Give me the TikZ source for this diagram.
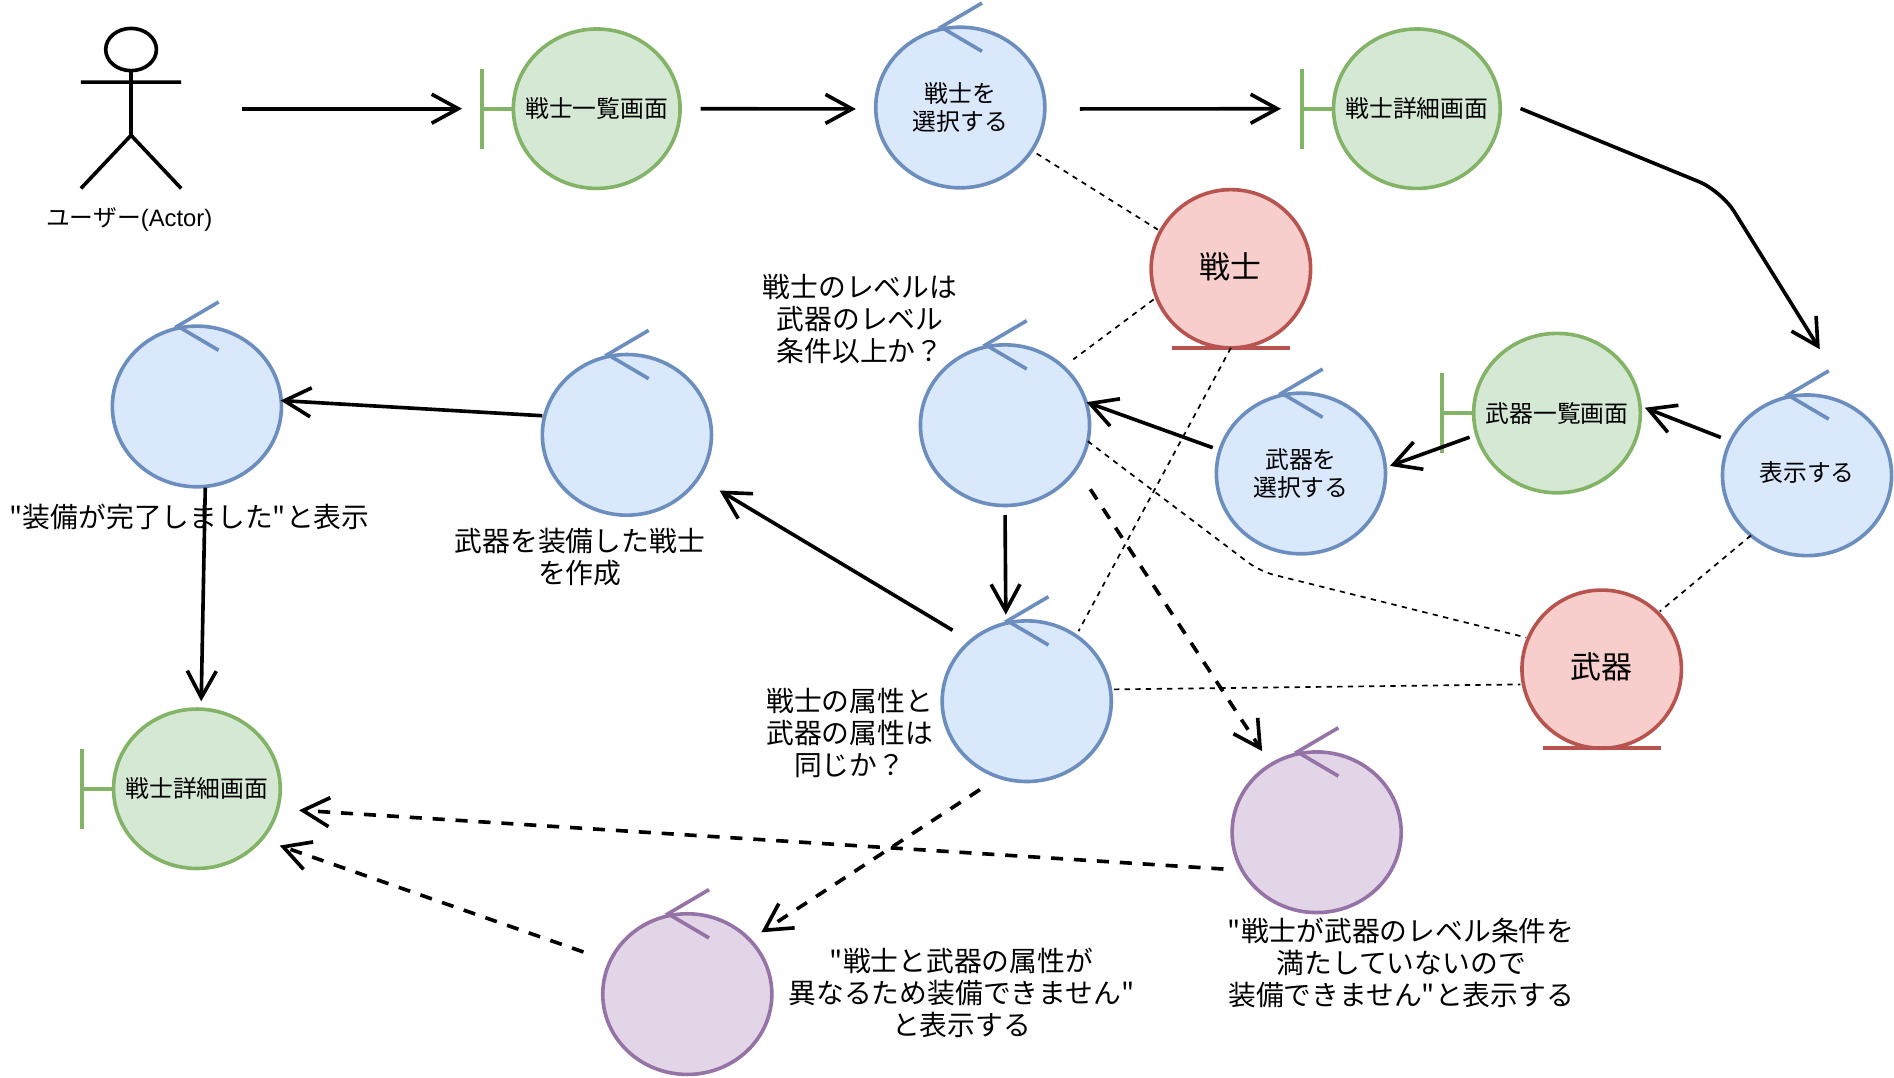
\documentclass[tikz,border=0pt]{standalone}
\usepackage{fontspec}
\setmainfont[Ligatures=TeXOff]{Noto Sans CJK JP}
\newfontfamily\latinfont{Liberation Sans}
\usetikzlibrary{arrows.meta,shapes.geometric}

\definecolor{boundfill}{HTML}{D5E8D4}
\definecolor{boundline}{HTML}{82B366}
\definecolor{ctrlfill}{HTML}{DAE8FC}
\definecolor{ctrlline}{HTML}{6C8EBF}
\definecolor{entfill}{HTML}{F8CECC}
\definecolor{entline}{HTML}{B85450}
\definecolor{msgfill}{HTML}{E1D5E7}
\definecolor{msgline}{HTML}{9673A6}

\tikzset{
  gaps/.style 2 args={shorten <=#1*.5pt,shorten >=#2*.5pt},
  tipgaps/.style 2 args={shorten <=#1*.5pt,shorten >=(#2-1.5)*.5pt},
  flow/.style={line width=1.5pt,-{Straight Barb[length=11pt,width=12pt]}},
  dashflow/.style={flow,dash pattern=on 5pt off 4.5pt},
  assoc/.style={line width=.7pt,dash pattern=on 2.2pt off 2.2pt},
  robust/.style={ellipse,inner sep=0pt,outer sep=0pt,line width=1.5pt,minimum width=70pt,minimum height=66.5pt,
    align=center,font=\fontsize{9.85}{11.8}\selectfont},
  boundary/.style={robust,draw=boundline,fill=boundfill,inner xsep=-14pt,minimum width=69pt,minimum height=66pt},
  control/.style={robust,draw=ctrlline,fill=ctrlfill},
  message/.style={robust,draw=msgline,fill=msgfill},
  entity/.style={robust,draw=entline,fill=entfill,minimum width=66pt,minimum height=65.5pt,
    text height=10pt,text depth=2.2pt,font=\fontsize{12.8}{15}\selectfont},
  note/.style={align=center,inner sep=0pt,font=\fontsize{11.5}{13.2}\selectfont},
}

% little marks on the circles
\newcommand{\ctrlmark}[2]{\draw [#2,line width=1.5pt] (#1.north) ++(18,-20) -- ++(-34,20) -- ++(34,20) ;}
\newcommand{\boundmark}[1]{\draw [boundline,line width=1.5pt] (#1.west) -- ++(-26,0) ++(0,-33) -- ++(0,66) ;}
\newcommand{\entmark}[1]{\draw [entline,line width=1.6pt] (#1.south) ++(-49,0) -- ++(98,0) ;}

\begin{document}
\begin{tikzpicture}[x=.5pt,y=-.5pt]
\useasboundingbox (0,0) rectangle (1568,892.4) ;

% actor
\node (user) [minimum width=42pt,minimum height=67pt,inner sep=0pt,outer sep=0pt] at (108.5,90) {} ;
\draw [line width=1.5pt] (108.5,41) ellipse [x radius=21,y radius=17.5] ;
\draw [line width=1.5pt] (108.5,58.5) -- (108.5,112) (67,68) -- (150,68) (67,156) -- (108.5,112) -- (150,156) ;
\node (userlabel) [font=\fontsize{9.85}{11.8}\selectfont,inner sep=0pt] at (107,181.5) {ユーザー{\latinfont (Actor)}} ;

% boundaries
\node (fighterlist) [boundary] at (494,90) {戦士一覧画面} ;
\node (fighterdetail) [boundary] at (1173,90) {戦士詳細画面} ;
\node (weaponlist) [boundary] at (1289,342) {武器一覧画面} ;
\node (resultdetail) [boundary] at (163,653) {戦士詳細画面} ;
\boundmark{fighterlist}
\boundmark{fighterdetail}
\boundmark{weaponlist}
\boundmark{resultdetail}

% entities
\node (fighter) [entity] at (1019,222.5) {戦士} ;
\node (weapon) [entity] at (1326,554) {武器} ;
\entmark{fighter}
\entmark{weapon}

% controls
\node (pickfighter) [control] at (795,89) {戦士を\\選択する} ;
\node (levelcheck) [control] at (832,352) {} ;
\node (pickweapon) [control] at (1077,392) {武器を\\選択する} ;
\node (showweapons) [control,text height=7.5pt,text depth=2.1pt] at (1496,393.5) {表示する} ;
\node (attrcheck) [control] at (850,580.5) {} ;
\node (makefighter) [control] at (519,360) {} ;
\node (showdone) [control] at (163,336.5) {} ;
\node (levelerror) [message] at (1090,689) {} ;
\node (attrerror) [message] at (569,823) {} ;
\ctrlmark{pickfighter}{ctrlline}
\ctrlmark{levelcheck}{ctrlline}
\ctrlmark{pickweapon}{ctrlline}
\ctrlmark{showweapons}{ctrlline}
\ctrlmark{attrcheck}{ctrlline}
\ctrlmark{makefighter}{ctrlline}
\ctrlmark{showdone}{ctrlline}
\ctrlmark{levelerror}{msgline}
\ctrlmark{attrerror}{msgline}

% texts
\node (levelnote) [note] at (712,264) {戦士のレベルは\\武器のレベル\\条件以上か？} ;
\node (makenote) [note] at (480,461) {武器を装備した戦士\\を作成} ;
\node (donenote) [note] at (157,428) {"装備が完了しました"と表示} ;
\node (attrnote) [note] at (703.5,607) {戦士の属性と\\武器の属性は\\同じか？} ;
\node (attrerrnote) [note] at (796,822) {"戦士と武器の属性が\\異なるため装備できません"\\と表示する} ;
\node (levelerrnote) [note] at (1160,797) {"戦士が武器のレベル条件を\\満たしていないので\\装備できません"と表示する} ;

% solid arrows
\coordinate (bend) at (1425,158) ;
\draw [flow,tipgaps={50}{44}] (user.east) -- (fighterlist.west) ;
\draw [flow,tipgaps={17}{18}] (fighterlist.east) -- (pickfighter.181) ;
\draw [flow,tipgaps={29}{45}] (pickfighter.359) -- (fighterdetail.west) ;
\draw [flow,tipgaps={18.6}{62.3},rounded corners=10pt] (fighterdetail.6) -- (bend) -- (showweapons.51.5) ;
\draw [flow,tipgaps={8.6}{5.8}] (showweapons.156.6) -- (weaponlist.5.8) ;
\draw [flow,tipgaps={6.3}{5.6}] (weaponlist.195.3) -- (pickweapon.4.9) ;
\draw [flow,tipgaps={6.4}{2}] (pickweapon.164.4) -- (levelcheck.16) ;
\draw [flow,tipgaps={8}{8.7}] (levelcheck.south) -- (attrcheck.105.4) ;
\draw [flow,tipgaps={17.5}{22}] (attrcheck.133.2) -- (makefighter.329.3) ;
\draw [flow,tipgaps={2}{1}] (makefighter.167.7) -- (showdone.4.5) ;
\draw [flow,tipgaps={1}{8}] (showdone.276) -- (resultdetail.87.4) ;

% dashed arrows
\draw [dashflow,tipgaps={21}{14.8}] (levelcheck.329.2) -- (levelerror.124.6) ;
\draw [dashflow,tipgaps={19}{13}] (attrcheck.250.9) -- (attrerror.41.5) ;
\draw [dashflow,tipgaps={15.5}{19.4}] (levelerror.207.1) -- (resultdetail.346.9) ;
\draw [dashflow,tipgaps={23.4}{17.5}] (attrerror.157.4) -- (resultdetail.322.9) ;

% associations
\coordinate (sag) at (1043,473) ;
\draw [assoc,gaps={4.8}{2.8}] (pickfighter.329.9) -- (fighter.152.9) ;
\draw [assoc,gaps={3}{10.4}] (fighter.201.1) -- (levelcheck.45) ;
\draw [assoc,gaps={0}{4.4}] (fighter.south) -- (attrcheck.53.4) ;
\draw [assoc,gaps={0}{2},rounded corners=6pt] (levelcheck.349.5) -- (sag) -- (weapon.157.6) ;
\draw [assoc,gaps={3}{2.5}] (attrcheck.8) -- (weapon.191.8) ;
\draw [assoc,gaps={0}{2}] (showweapons.227.1) -- (weapon.45.8) ;

\end{tikzpicture}
\end{document}
